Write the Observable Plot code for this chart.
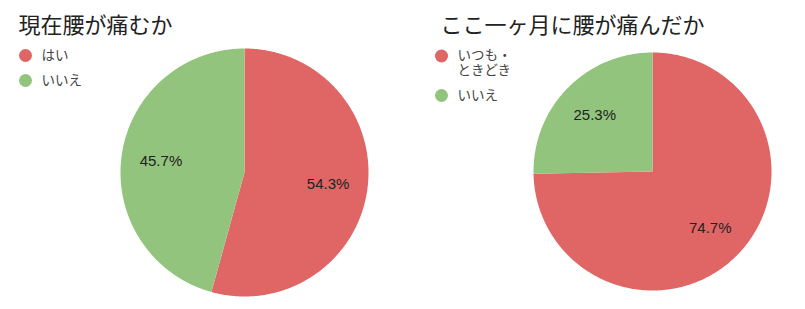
<!DOCTYPE html>
<html><head><meta charset="utf-8">
<script src="https://cdn.jsdelivr.net/npm/d3@7"></script>
<script src="https://cdn.jsdelivr.net/npm/@observablehq/plot@0.6"></script>
<style>body{margin:0;background:#fff}</style>
</head><body><div id="chart"></div>
<script>
const titles = ["現在腰が痛むか", "ここ一ヶ月に腰が痛んだか"];
const labelsA = [["はい"], ["いいえ"]];
const valuesA = [54.3, 45.7];
const labelsB = [["いつも・", "ときどき"], ["いいえ"]];
const valuesB = [74.7, 25.3];
const colors = ["#e06666", "#93c47d"];

const W = 805, H = 309;
const pies = [
  {title: titles[0], labels: labelsA, values: valuesA, cx: 244, cy: 172, r: 124, tx: 18, lx: 25, ly: [55, 80]},
  {title: titles[1], labels: labelsB, values: valuesB, cx: 652, cy: 171, r: 119, tx: 440, lx: 441, ly: [55.5, 95]}
];

const marks = [];
for (const p of pies) {
  const total = d3.sum(p.values);
  let acc = 0;
  p.values.forEach((v, i) => {
    const a0 = acc / total * 2 * Math.PI;
    acc += v;
    const a1 = acc / total * 2 * Math.PI;
    const n = Math.max(2, Math.ceil((a1 - a0) / 0.01));
    const pts = [{x: p.cx, y: p.cy}];
    for (let k = 0; k <= n; k++) {
      const a = a0 + (a1 - a0) * k / n;
      pts.push({x: p.cx + p.r * Math.sin(a), y: p.cy - p.r * Math.cos(a)});
    }
    pts.push({x: p.cx, y: p.cy});
    marks.push(Plot.line(pts, {x: "x", y: "y", fill: colors[i], stroke: "none", curve: "linear"}));
    const am = (a0 + a1) / 2;
    marks.push(Plot.text([{x: p.cx + 0.68 * p.r * Math.sin(am), y: p.cy - 0.68 * p.r * Math.cos(am), t: v.toFixed(1) + "%"}],
      {x: "x", y: "y", text: "t", fontSize: 15, fill: "#222", fontFamily: "Liberation Sans, Arial, sans-serif"}));
  });
  marks.push(Plot.text([{x: p.tx, y: 25, t: p.title}], {x: "x", y: "y", text: "t", textAnchor: "start", fontSize: 22, fill: "#222", fontFamily: "Noto Sans CJK JP"}));
  marks.push(Plot.dot(p.labels.map((l, i) => ({x: p.lx, y: p.ly[i], c: colors[i]})), {x: "x", y: "y", r: 6.5, fill: "c", stroke: "none"}));
  const lines = p.labels.flatMap((l, i) => l.map((s, j) => ({x: p.lx + 16, y: p.ly[i] + j * 15, t: s})));
  marks.push(Plot.text(lines,
    {x: "x", y: "y", text: "t", textAnchor: "start", fontSize: 13.5, fill: "#444", fontFamily: "Noto Sans CJK JP"}));
}

const chart = Plot.plot({
  width: W, height: H,
  margin: 0,
  x: {domain: [0, W], range: [0, W], axis: null},
  y: {domain: [0, H], range: [0, H], axis: null},
  color: {type: "identity"},
  style: {background: "#fff"},
  marks
});
document.getElementById("chart").append(chart);
</script>
</body></html>
